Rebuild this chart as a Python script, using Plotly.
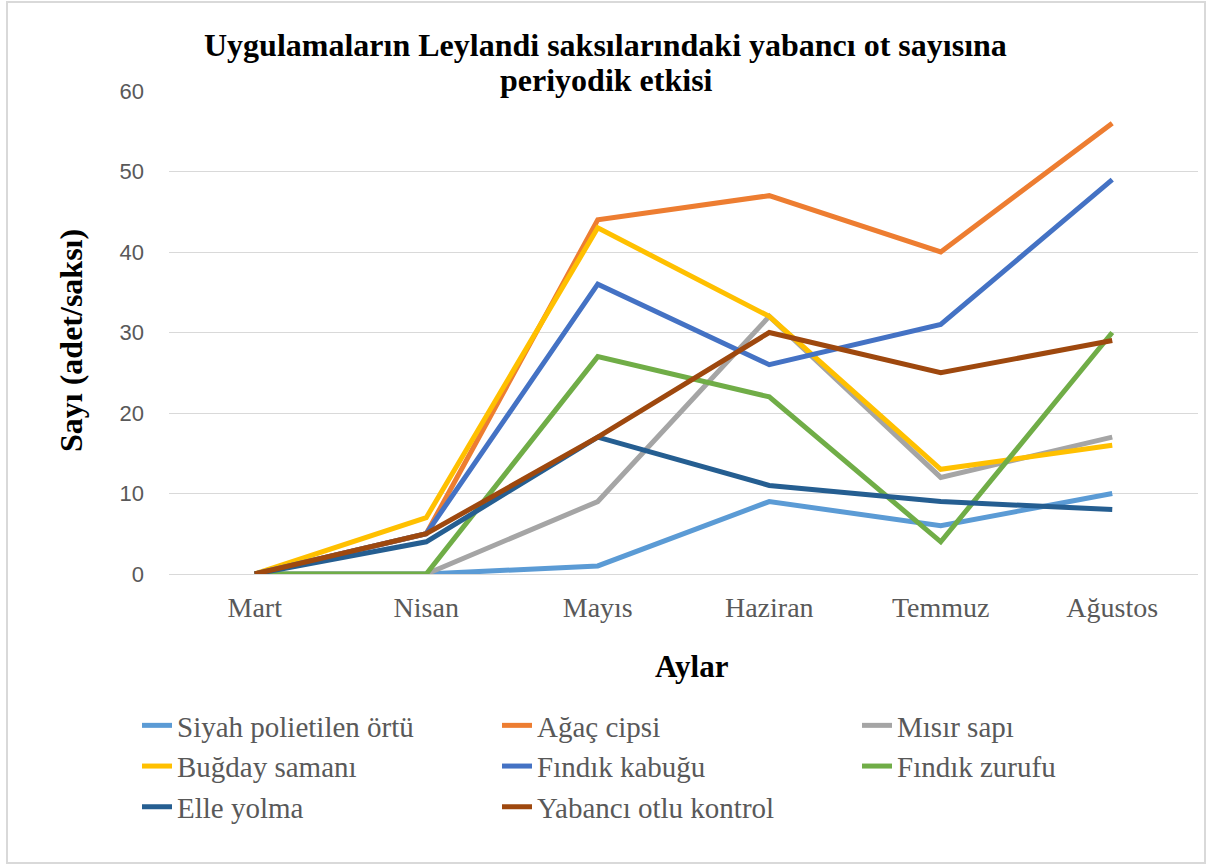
import plotly.graph_objects as go

months = ["Mart", "Nisan", "Mayıs", "Haziran", "Temmuz", "Ağustos"]

series_names = [
    "Siyah polietilen örtü", "Ağaç cipsi", "Mısır sapı",
    "Buğday samanı", "Fındık kabuğu", "Fındık zurufu",
    "Elle yolma", "Yabancı otlu kontrol",
]

siyah_polietilen = [0, 0, 1, 9, 6, 10]
agac_cipsi = [0, 5, 44, 47, 40, 56]
misir_sapi = [0, 0, 9, 32, 12, 17]
bugday_samani = [0, 7, 43, 32, 13, 16]
findik_kabugu = [0, 5, 36, 26, 31, 49]
findik_zurufu = [0, 0, 27, 22, 4, 30]
elle_yolma = [0, 4, 17, 11, 9, 8]
yabanci_otlu = [0, 5, 17, 30, 25, 29]

values = [siyah_polietilen, agac_cipsi, misir_sapi, bugday_samani,
          findik_kabugu, findik_zurufu, elle_yolma, yabanci_otlu]
colors = ["#5B9BD5", "#ED7D31", "#A5A5A5", "#FFC000",
          "#4472C4", "#70AD47", "#255E91", "#9E480E"]

y_ticks = [0, 10, 20, 30, 40, 50, 60]

fig = go.Figure()
for name, vals, col in zip(series_names, values, colors):
    fig.add_trace(go.Scatter(
        x=months, y=vals, name=name, mode="lines",
        line=dict(color=col, width=5),
    ))

W, H = 1217, 865
L, R, T, B = 169, 19, 91, 291
pw, ph = W - L - R, H - T - B


def px(xp):
    return (xp - L) / pw


def py(yp):
    return (H - B - yp) / ph


serif = "Liberation Serif"

fig.update_layout(
    width=W, height=H,
    margin=dict(l=L, r=R, t=T, b=B),
    paper_bgcolor="white", plot_bgcolor="white",
    showlegend=True,
    legend=dict(
        orientation="h",
        x=px(137), y=py(700), xanchor="left", yanchor="top",
        entrywidth=315, entrywidthmode="pixels",
        font=dict(family=serif, size=29, color="#595959"),
        traceorder="normal",
        bgcolor="rgba(0,0,0,0)",
        itemwidth=30,
        tracegroupgap=0,
    ),
    xaxis=dict(
        type="category",
        range=[-0.5, 5.5],
        showgrid=False,
        showline=False,
        zeroline=False,
        ticks="",
        tickfont=dict(family=serif, size=28, color="#595959"),
        ticklabelstandoff=14,
    ),
    yaxis=dict(
        range=[0, 60],
        tickvals=y_ticks,
        showgrid=True, gridcolor="#D9D9D9", gridwidth=1.3,
        zeroline=True, zerolinecolor="#D9D9D9", zerolinewidth=1.3,
        showline=False,
        ticks="",
        tickfont=dict(family="Liberation Sans", size=22, color="#595959"),
        ticklabelstandoff=24,
    ),
    annotations=[
        dict(
            text="<b>Uygulamaların Leylandi saksılarındaki yabancı ot sayısına</b>",
            xref="paper", yref="paper", x=px(605), y=py(45),
            xanchor="center", yanchor="middle", showarrow=False,
            font=dict(family=serif, size=32, color="black"),
        ),
        dict(
            text="<b>periyodik etkisi</b>",
            xref="paper", yref="paper", x=px(606), y=py(80),
            xanchor="center", yanchor="middle", showarrow=False,
            font=dict(family=serif, size=32, color="black"),
        ),
        dict(
            text="<b>Aylar</b>",
            xref="paper", yref="paper", x=px(692), y=py(666),
            xanchor="center", yanchor="middle", showarrow=False,
            font=dict(family=serif, size=31, color="black"),
        ),
        dict(
            text="<b>Sayı (adet/saksı)</b>",
            xref="paper", yref="paper", x=px(71), y=py(341),
            xanchor="center", yanchor="middle", showarrow=False,
            textangle=-90,
            font=dict(family=serif, size=32, color="black"),
        ),
    ],
    shapes=[
        dict(
            type="rect", xref="paper", yref="paper",
            x0=px(7), x1=px(1205), y0=py(863), y1=py(2),
            line=dict(color="#D9D9D9", width=2),
            fillcolor="rgba(0,0,0,0)", layer="below",
        )
    ],
)

fig.write_html(
    "out.html",
    config={"displayModeBar": False},
    post_script="document.body.style.margin='0';document.body.style.padding='0';",
)
